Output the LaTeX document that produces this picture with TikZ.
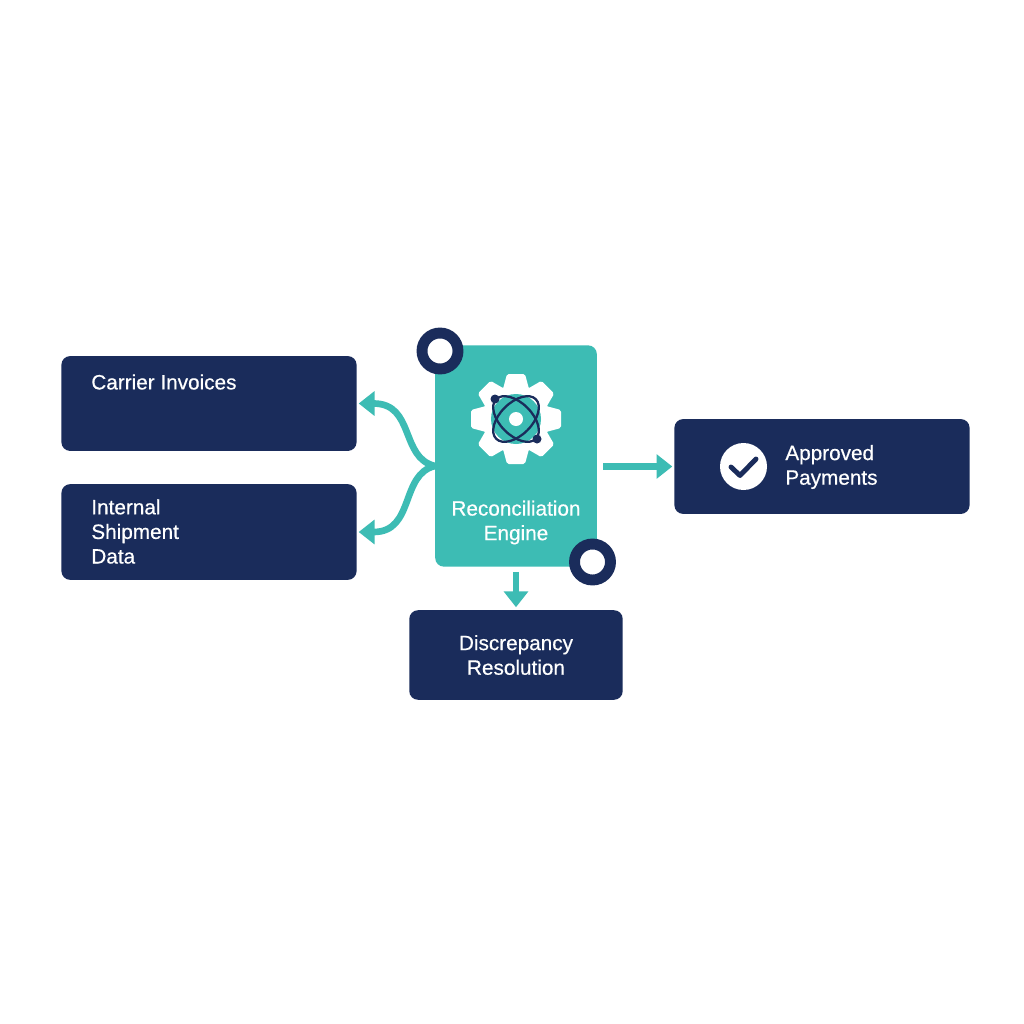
\documentclass[tikz,border=0pt]{standalone}
\usepackage{fontspec}
\setmainfont{Liberation Sans}[RawFeature={embolden=0.5}]
\usetikzlibrary{arrows.meta}
\definecolor{navy}{HTML}{1A2C5B}
\definecolor{teal}{HTML}{3DBCB4}
\tikzset{
  box/.style={fill=navy,rounded corners=5pt,minimum width=#1,inner sep=0},
  box/.default=168pt,
  word/.style={text=white,font=\fontsize{11.8}{14}\selectfont,inner sep=0},
  ring/.style={circle,draw=navy,fill=white,line width=6.2pt,minimum size=0.72cm,inner sep=0},
  flow/.style={draw=teal,line width=3.8pt,-{Triangle[length=9pt,width=13.5pt]}},
}
\begin{document}
\begin{tikzpicture}[x=0.02cm,y=-0.02cm]
  \useasboundingbox (0,0) rectangle (1024,1024);
  \fill[white] (0,0) rectangle (1024,1024);
  % boxes
  \node[box,minimum height=54pt] (carrier) at (209,403.5) {};
  \node[box,minimum height=54.5pt] (internal) at (209,532) {};
  \node[box,minimum height=54pt] (approved) at (822,466.5) {};
  \node[box=121.5pt,minimum height=51pt] (discrepancy) at (516,655) {};
  \node[fill=teal,rounded corners=5pt,minimum width=92pt,minimum height=126pt,inner sep=0] (engine) at (516,456) {};
  \node[ring] (ringtop) at (440,351) {};
  \node[ring] (ringbottom) at (592.5,562) {};
  % labels
  \node[word,anchor=west] (carriertext) at (91,382) {Carrier Invoices};
  \node[word,anchor=west,align=left] (internaltext) at (91,531.5) {Internal\\Shipment\\Data};
  \node[word,anchor=west,align=left] (approvedtext) at (785,467) {Approved\\Payments};
  \node[word,align=center] (discrepancytext) at (516,655) {Discrepancy\\Resolution};
  \node[word,align=center] (enginetext) at (516,522.5) {Reconciliation\\Engine};
  % gear
  \coordinate (hub) at (516,419);
  \fill[white] (hub) circle (34);
  \foreach \a in {0,45,...,315}
    \fill[white,rounded corners=1pt,shift={(hub)},rotate=\a]
      (-13,-30) -- (-9,-45) -- (9,-45) -- (13,-30) -- cycle;
  \fill[teal] (hub) circle (25);
  \foreach \a in {45,-45}
    \draw[navy,line width=1.3pt,rotate around={\a:(hub)}] (hub) ellipse (28 and 16);
  \fill[white] (hub) circle (7);
  \foreach \x/\y in {495/399, 537/439}
    \fill[navy] (\x,\y) circle (4.5);
  % check mark
  \node[circle,fill=white,minimum size=0.94cm,inner sep=0] (tick) at (743.5,466.5) {};
  \draw[navy,line width=2.8pt,line cap=round,line join=round]
    (731,467) -- (740,475.5) -- (756,459);
  % connectors
  \coordinate (split) at (435,466);
  \coordinate (exit) at (603,466.5);
  \draw[flow,shorten >=1pt] (split) .. controls (400,458) and (415,403.5) .. (carrier.east);
  \draw[flow,shorten >=1pt] (split) .. controls (400,474) and (415,532) .. (internal.east);
  \draw[flow,shorten >=1pt] (exit) -- (approved.west);
  \draw[flow,shorten <=2.8pt,shorten >=1.5pt] (engine.south) -- (discrepancy.north);
\end{tikzpicture}
\end{document}
